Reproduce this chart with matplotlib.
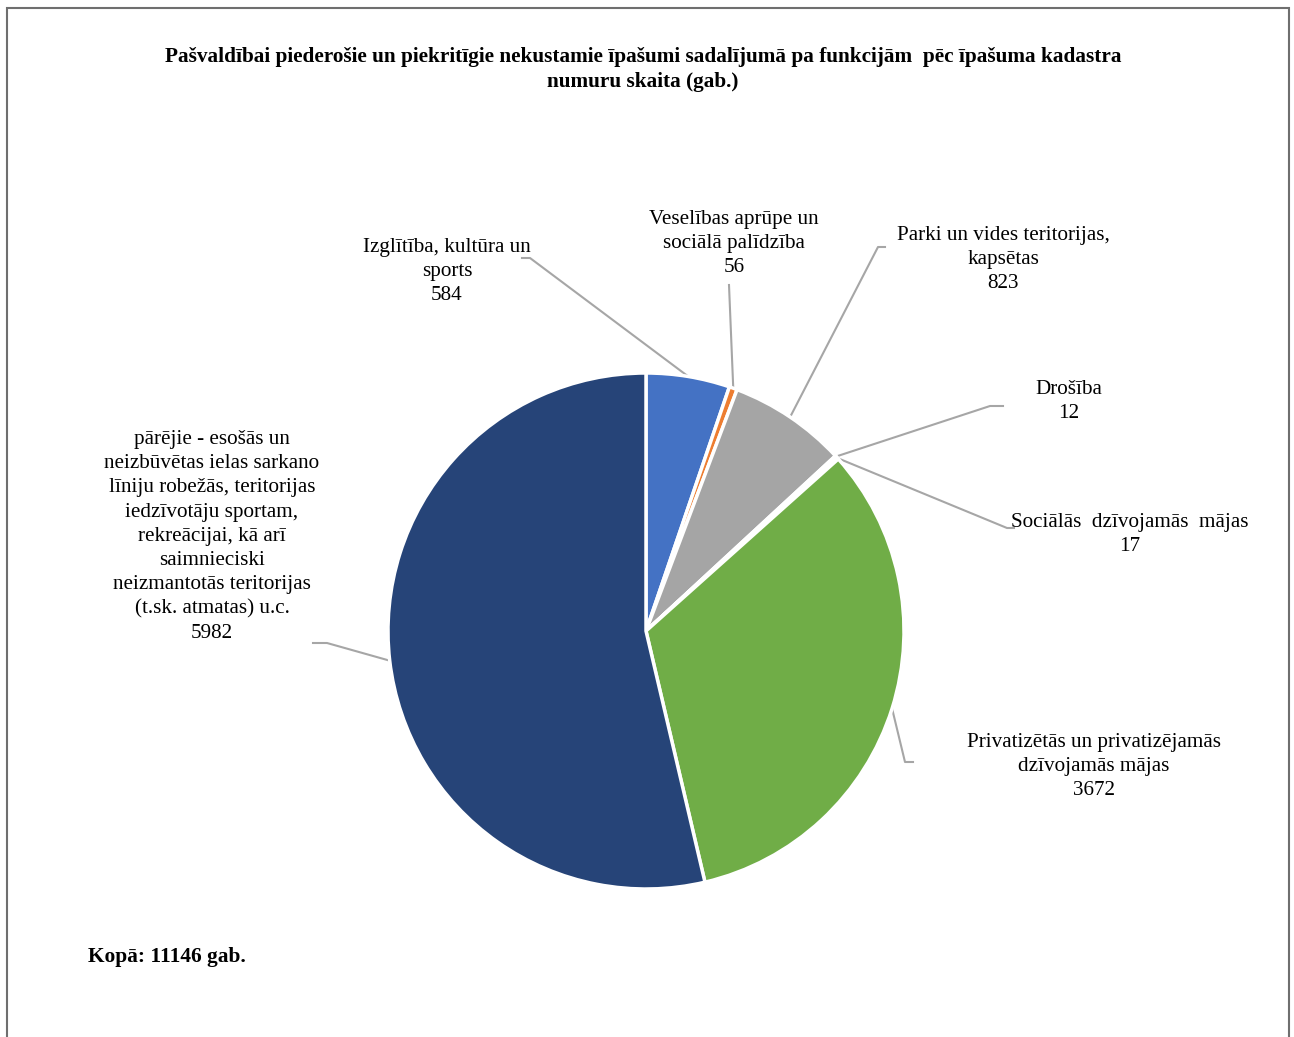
import numpy as np
import matplotlib.pyplot as plt
from matplotlib.patches import Rectangle

plt.rcParams['font.family'] = ['Liberation Serif', 'DejaVu Serif']

W, H = 1294, 1037

categories = [
    "Izglītība, kultūra un\nsports",
    "Veselības aprūpe un\nsociālā palīdzība",
    "Parki un vides teritorijas,\nkapsētas",
    "Drošība",
    "Sociālās  dzīvojamās  mājas",
    "Privatizētās un privatizējamās\ndzīvojamās mājas",
    "pārējie - esošās un\nneizbūvētas ielas sarkano\nlīniju robežās, teritorijas\niedzīvotāju sportam,\nrekreācijai, kā arī\nsaimnieciski\nneizmantotās teritorijas\n(t.sk. atmatas) u.c.",
]
values = [584, 56, 823, 12, 17, 3672, 5982]
colors = ["#4472C4", "#ED7D31", "#A5A5A5", "#FFC000", "#5B9BD5", "#70AD47", "#264478"]
total = sum(values)

# label placement in pixel coords (x, y from top): text centre of first line, elbow, horizontal end
label_pos = [(447, 245), (734, 217), (1003, 233), (1069, 387), (1130, 520), (1094, 740), (212, 437)]
elbows = [(530, 258), (729, 285), (878, 247), (990, 406), (1007, 528), (905, 762), (327, 643)]
hends = [(522, 258), (729, 285), (885, 247), (1003, 406), (1014, 528), (913, 762), (313, 643)]

cx, cy, r = 646, 631, 258


def Y(y):
    return H - y


fig = plt.figure(figsize=(W / 100, H / 100), dpi=100)
ax = fig.add_axes([0, 0, 1, 1])

wedges, _ = ax.pie(values, colors=colors, startangle=90, counterclock=False,
                   center=(cx, Y(cy)), radius=r,
                   wedgeprops=dict(edgecolor='white', linewidth=2.5))
ax.set_xlim(0, W)
ax.set_ylim(0, H)
ax.set_aspect('equal')
ax.axis('off')

ax.add_patch(Rectangle((7, -20), 1282, H - 8 + 20, fill=False,
                       edgecolor='#6f6f6f', linewidth=1.5))

for w, lab, v, (tx, ty), (ex, ey), (hx, hy) in zip(wedges, categories, values,
                                                    label_pos, elbows, hends):
    ang = np.deg2rad((w.theta1 + w.theta2) / 2)
    px = cx + r * np.cos(ang)
    py = Y(cy) + r * np.sin(ang)
    ax.plot([px, ex, hx], [py, Y(ey), Y(hy)], color='#a6a6a6', lw=1.5, zorder=0)
    ax.text(tx, Y(ty - 7), lab + "\n" + str(v), ha='center', va='top',
            fontsize=15.2, linespacing=1.37, multialignment='center')

ax.text(643, Y(47), "Pašvaldībai piederošie un piekritīgie nekustamie īpašumi sadalījumā pa funkcijām  pēc īpašuma kadastra\nnumuru skaita (gab.)",
        ha='center', va='top', fontsize=15.3, fontweight='bold', linespacing=1.3)
ax.text(88, Y(957), "Kopā: " + str(total) + " gab.", ha='left', va='center',
        fontsize=15.4, fontweight='bold')

fig.savefig("out.png", dpi=100)
